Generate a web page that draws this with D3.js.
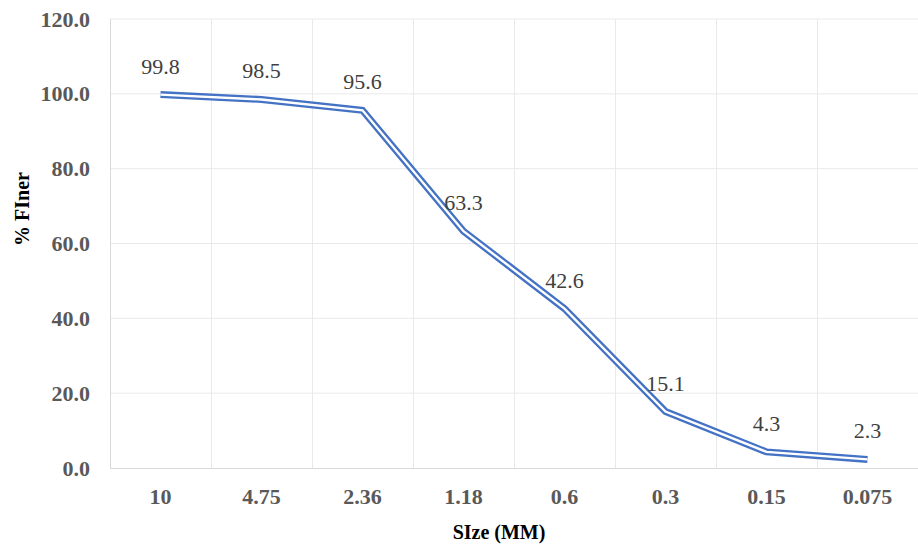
<!DOCTYPE html>
<html>
<head>
<meta charset="utf-8">
<script src="https://cdn.jsdelivr.net/npm/d3@7/dist/d3.min.js"></script>
<style>
  html, body { margin: 0; padding: 0; background: #fff; }
  svg { display: block; }
  svg text { font-family: "Liberation Serif", "Times New Roman", Times, "DejaVu Serif", serif; }
</style>
</head>
<body>
<svg id="chart" width="918" height="544"></svg>
<script>
const categories = ["10", "4.75", "2.36", "1.18", "0.6", "0.3", "0.15", "0.075"];
const percentFiner = [99.8, 98.5, 95.6, 63.3, 42.6, 15.1, 4.3, 2.3];
const yTicks = [0, 20, 40, 60, 80, 100, 120];
const xTitle = "SIze (MM)";
const yTitle = "% FIner";

const svg = d3.select("#chart");
const W = 918, H = 544;
const m = { left: 110, right: 0, top: 19, bottom: 76 };
const font = '"Liberation Serif", "Times New Roman", Times, "DejaVu Serif", serif';

const x = d3.scaleBand().domain(categories).range([m.left, W - m.right]).paddingInner(0).paddingOuter(0);
const y = d3.scaleLinear().domain([0, 120]).range([H - m.bottom, m.top]);

// horizontal gridlines
svg.append("g").selectAll("line").data(yTicks.filter(d => d > 0)).join("line")
  .attr("x1", m.left).attr("x2", W - m.right)
  .attr("y1", d => y(d)).attr("y2", d => y(d))
  .attr("stroke", "#e9e9e9").attr("stroke-width", 1);

// vertical gridlines at category boundaries
svg.append("g").selectAll("line").data(categories.slice(1)).join("line")
  .attr("x1", d => Math.round(x(d)) + 0.5).attr("x2", d => Math.round(x(d)) + 0.5)
  .attr("y1", m.top).attr("y2", y(0))
  .attr("stroke", "#e9e9e9").attr("stroke-width", 1);

// axis lines
svg.append("line").attr("x1", m.left + 0.5).attr("x2", m.left + 0.5)
  .attr("y1", m.top).attr("y2", y(0)).attr("stroke", "#d9d9d9");
svg.append("line").attr("x1", m.left).attr("x2", W - m.right)
  .attr("y1", y(0) + 0.5).attr("y2", y(0) + 0.5).attr("stroke", "#d9d9d9");

// y axis labels
const yAxis = d3.axisLeft(y).tickValues(yTicks).tickFormat(d3.format(".1f")).tickSize(0).tickPadding(20);
const gy = svg.append("g").attr("transform", `translate(${m.left},0)`).call(yAxis);
gy.attr("font-family", null);
gy.select(".domain").remove();
gy.selectAll("text").style("font-family", font).style("font-size", "22px").style("font-weight", "bold").attr("fill", "#595959");

// x axis labels
const xAxis = d3.axisBottom(x).tickSize(0).tickPadding(20);
const gx = svg.append("g").attr("transform", `translate(0,${y(0)})`).call(xAxis);
gx.attr("font-family", null);
gx.select(".domain").remove();
gx.selectAll("text").style("font-family", font).style("font-size", "22px").style("font-weight", "bold").attr("fill", "#595959");

// line (double / compound style)
const pts = categories.map((c, i) => [x(c) + x.bandwidth() / 2, y(percentFiner[i])]);
const line = d3.line();
svg.append("path").attr("d", line(pts)).attr("fill", "none")
  .attr("stroke", "#4472c4").attr("stroke-width", 7).attr("stroke-linejoin", "miter");
svg.append("path").attr("d", line(pts)).attr("fill", "none")
  .attr("stroke", "#ffffff").attr("stroke-width", 2.4).attr("stroke-linejoin", "miter");

// data labels
svg.append("g").selectAll("text").data(percentFiner).join("text")
  .attr("x", (d, i) => x(categories[i]) + x.bandwidth() / 2)
  .attr("y", d => y(d) - 21)
  .attr("text-anchor", "middle")
  .style("font-family", font).style("font-size", "22px").attr("fill", "#404040")
  .text(d => d.toFixed(1));

// axis titles
svg.append("text").attr("x", 499).attr("y", 539)
  .attr("text-anchor", "middle").style("font-family", font).style("font-size", "20px")
  .style("font-weight", "bold").attr("fill", "#000").text(xTitle);
svg.append("text").attr("transform", "translate(29,209) rotate(-90)")
  .attr("text-anchor", "middle").style("font-family", font).style("font-size", "20px")
  .style("font-weight", "bold").attr("fill", "#000").text(yTitle);
</script>
</body>
</html>
